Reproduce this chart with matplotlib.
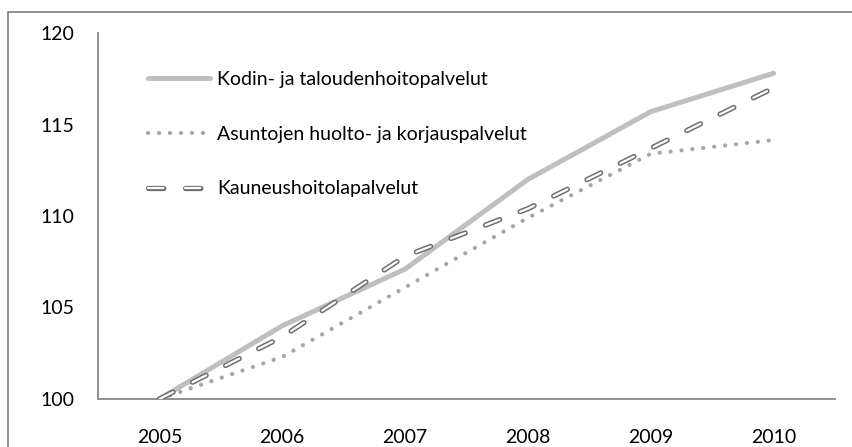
import matplotlib
matplotlib.use("Agg")
import matplotlib.pyplot as plt
from matplotlib.patches import Rectangle

years = ["2005", "2006", "2007", "2008", "2009", "2010"]
kodin = [100.0, 104.0, 107.1, 112.0, 115.7, 117.8]
asunto = [100.0, 102.3, 106.1, 109.9, 113.4, 114.15]
kauneus = [100.0, 103.4, 107.8, 110.4, 113.7, 117.0]
yticks = [100, 105, 110, 115, 120]

labels = ["Kodin- ja taloudenhoitopalvelut",
          "Asuntojen huolto- ja korjauspalvelut",
          "Kauneushoitolapalvelut"]

plt.rcParams['font.family'] = ['Lato', 'DejaVu Sans']
plt.rcParams['lines.scale_dashes'] = False

W, H = 853, 447
fig = plt.figure(figsize=(W / 100, H / 100), dpi=100)
ax = fig.add_axes([98 / W, 1 - 399 / H, (835 - 98) / W, (399 - 33) / H])

x = list(range(len(years)))
l1, = ax.plot(x, kodin, color="#BFBFBF", lw=3.6, solid_capstyle="round", zorder=3)
l2, = ax.plot(x, asunto, color="#A6A6A6", lw=3.0, linestyle=(0, (0.1, 7.8)),
              dash_capstyle="round", zorder=3)
l3a, = ax.plot(x, kauneus, color="#6E6E6E", lw=3.8, linestyle=(0, (11, 15.7)),
               dash_capstyle="round", zorder=4)
l3b, = ax.plot(x, kauneus, color="white", lw=1.6, linestyle=(0, (11, 15.7)),
               dash_capstyle="round", zorder=5)

FS = 14
ax.set_xlim(-0.5, len(years) - 0.5)
ax.set_ylim(100, 120)
ax.set_xticks(x)
ax.set_xticklabels(years)
ax.set_yticks(yticks)
ax.set_yticklabels([str(v) for v in yticks])
ax.tick_params(length=0, labelsize=FS, colors="black")
ax.tick_params(axis="y", pad=17)
ax.tick_params(axis="x", pad=21.5)

for s in ["top", "right"]:
    ax.spines[s].set_visible(False)
for s in ["left", "bottom"]:
    ax.spines[s].set_color("#888888")
    ax.spines[s].set_linewidth(1.3)

ax.legend([l1, l2, (l3a, l3b)], labels, loc="upper left",
          bbox_to_anchor=(148 / W, 1 - 71 / H), bbox_transform=fig.transFigure,
          frameon=False, fontsize=FS, handlelength=3.2, handletextpad=0.36,
          labelspacing=1.94, borderaxespad=0, borderpad=0)

fig.patches.append(Rectangle((8 / W, -0.2), 2, 1.2 - 12 / H,
                             transform=fig.transFigure, fill=False,
                             edgecolor="#888888", lw=1.3, clip_on=False))

fig.savefig("out.png", dpi=100)
